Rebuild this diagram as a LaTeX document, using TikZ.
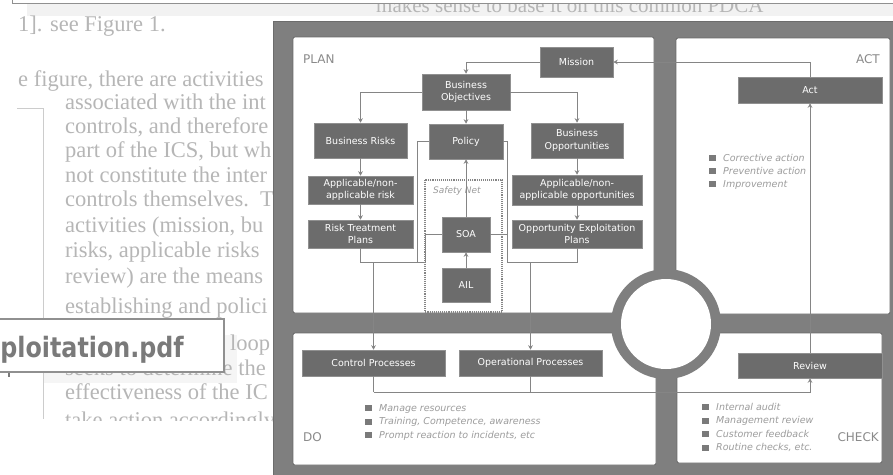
\documentclass[tikz,border=0pt]{standalone}
\usepackage{fontspec}
\setmainfont{Liberation Serif}
\newfontfamily\dv{DejaVu Sans}
\newfontfamily\pdffont[FakeStretch=0.85]{DejaVu Sans}
\usetikzlibrary{arrows.meta}
\definecolor{framegray}{HTML}{7F7F7F}
\definecolor{boxgray}{HTML}{6C6C6C}
\definecolor{boxedge}{HTML}{909090}
\definecolor{paneledge}{HTML}{6A6A6A}
\definecolor{linegray}{HTML}{858585}
\definecolor{bgtext}{HTML}{B6B6B6}
\definecolor{lblgray}{HTML}{8A8A8A}
\definecolor{listgray}{HTML}{9C9C9C}
\definecolor{sqcol}{HTML}{7A7A7A}
\definecolor{bandgray}{HTML}{F2F2F2}
\newcommand\sqb{\textcolor{sqcol}{\rule{7pt}{6pt}}\hspace{7pt}}
\tikzset{
  box/.style={draw=boxedge, line width=0.5pt, fill=boxgray, text=white,
    font=\dv\fontsize{9.5}{12.5}\selectfont, align=center, inner sep=0pt},
  panel/.style={draw=paneledge, fill=white, line width=0.8pt, rounded corners=2pt},
  conn/.style={draw=linegray, line width=1pt},
  arr/.style={conn, -{Stealth[length=4.5pt,width=4.5pt]}},
  bg/.style={text=bgtext, font=\fontsize{22.5}{26}\selectfont, anchor=base west, inner sep=0pt},
  lbl/.style={text=lblgray, font=\dv\fontsize{12}{14}\selectfont, inner sep=0pt},
  lst/.style={text=listgray, font=\dv\itshape\fontsize{9.5}{13}\selectfont, anchor=base west, inner sep=0pt}
}
\begin{document}
\begin{tikzpicture}[x=1pt,y=-1pt]
\useasboundingbox (0,0) rectangle (893,474);
\fill[white] (0,0) rectangle (893,474);
% ---- background page ----
\fill[bandgray] (27,3.5) rectangle (893,16);
\node[bg, font=\fontsize{21}{24}\selectfont] (ttop) at (376,12) {makes sense to base it on this common PDCA};
\fill[white] (12,-1) rectangle (893,3.5);
\draw[draw=boxedge, line width=0.8pt] (12,-1) -- (12,3.5) -- (893,3.5);
\fill[bandgray!80!white] (43,335) rectangle (237,383);
\node[bg] (t0) at (18,31) {1]. see Figure 1.};
\node[bg] (t1) at (18,86) {e figure, there are activities};
\node[bg] (t2) at (65,109) {associated with the int};
\node[bg] (t3) at (65,133) {controls, and therefore};
\node[bg] (t4) at (65,157) {part of the ICS, but wh};
\node[bg] (t5) at (65,182) {not constitute the inter};
\node[bg] (t6) at (65,206) {controls themselves.\ \ T};
\node[bg] (t7) at (65,232) {activities (mission, bu};
\node[bg] (t8) at (65,257) {risks, applicable risks};
\node[bg] (t9) at (65,283) {review) are the means};
\node[bg] (t10) at (65,313) {establishing and polici};
\node[bg] (t11) at (230,350) {loop};
\node[bg] (t12) at (65,375) {seeks to determine the};
\node[bg] (t13) at (65,399) {effectiveness of the IC};
\node[bg] (t14) at (65,427) {take action accordingly};
\fill[white] (0,421) rectangle (272,474);
\draw[draw=bgtext!70!white, line width=0.8pt] (17,108) -- (43,108) -- (43,419);
\fill[sqcol] (8,373) rectangle (10,377);
\draw[draw=boxedge, line width=1.5pt, fill=white] (-2,319) rectangle (224,372);
\node[anchor=base east, text=sqcol, font=\pdffont\bfseries\fontsize{28}{30}\selectfont, inner sep=0pt] (pdf) at (184,357) {ploitation.pdf};
% ---- diagram frame ----
\draw[fill=framegray, draw=framegray!85!black, line width=0.6pt] (273,21) rectangle (894,475);
\draw[panel] (293,37) rectangle (654,313);
\draw[panel] (676,38) rectangle (890,314);
\draw[panel] (293,333) rectangle (656,465);
\draw[panel] (677,333) rectangle (882,463);
\fill[framegray] (666,324) circle[radius=55pt];
\fill[white] (666,324) circle[radius=45pt];
% ---- panel labels ----
\node[lbl, anchor=west] (planlbl) at (303,59) {PLAN};
\node[lbl, anchor=east] (actlbl) at (880,59) {ACT};
\node[lbl, anchor=west] (dolbl) at (303,437) {DO};
\node[lbl, anchor=east] (checklbl) at (879,437) {CHECK};
% ---- boxes ----
\node[box, minimum width=73, minimum height=30] (mission) at (576.5,62) {Mission};
\node[box, minimum width=88, minimum height=36] (bo) at (466,92) {Business\\Objectives};
\node[box, minimum width=93, minimum height=35] (br) at (360.5,140.5) {Business Risks};
\node[box, minimum width=74, minimum height=35] (policy) at (466,141.5) {Policy};
\node[box, minimum width=92, minimum height=35] (bopp) at (577,140.5) {Business\\Opportunities};
\node[box, minimum width=105, minimum height=28] (ar) at (360.5,190) {Applicable/non-\\applicable risk};
\node[box, minimum width=130, minimum height=30] (ao) at (577,190) {Applicable/non-\\applicable opportunities};
\node[box, minimum width=105, minimum height=28] (rtp) at (360.5,234) {Risk Treatment\\Plans};
\node[box, minimum width=130, minimum height=28] (oep) at (577,234) {Opportunity Exploitation\\Plans};
\node[box, minimum width=48, minimum height=35] (soa) at (466,234.5) {SOA};
\node[box, minimum width=48, minimum height=34] (ail) at (466,285) {AIL};
\node[box, minimum width=143, minimum height=26] (cp) at (373.5,363) {Control Processes};
\node[box, minimum width=143, minimum height=26] (op) at (530.5,363) {Operational Processes};
\node[box, minimum width=144, minimum height=26] (act) at (810,90) {Act};
\node[box, minimum width=144, minimum height=25] (review) at (810,365.5) {Review};
% ---- safety net ----
\draw[densely dotted, draw=linegray, line width=1.1pt] (425,180) rectangle (502,312);
\node[anchor=base west, inner sep=0pt, text=listgray, font=\dv\itshape\fontsize{9}{10}\selectfont] (sn) at (433,193) {Safety Net};
% ---- connectors ----
\coordinate (jL) at (425,262);
\coordinate (pL) at (417,262);
\coordinate (jR) at (507,262);
\coordinate (bot) at (0,392);
\draw[arr] (act.north) |- (mission.east);
\draw[arr] (mission.west) -| (bo.north);
\draw[arr] (bo.west) -| (br.north);
\draw[arr] (bo.east) -| (bopp.north);
\draw[arr] (bo.south) -- (policy.north);
\draw[arr] (br.south) -- (ar.north);
\draw[arr] (ar.south) -- (rtp.north);
\draw[arr] (bopp.south) -- (ao.north);
\draw[arr] (ao.south) -- (oep.north);
\draw[arr] (soa.north) -- (policy.south);
\draw[arr] (ail.north) -- (soa.south);
\draw[conn] (rtp.south) |- (jL);
\draw[conn] (policy.west) -| (pL);
\draw[conn] (soa.west) -| (jL);
\draw[arr] (cp.north |- jL) -- (cp.north);
\draw[conn] (policy.east) -| (jR);
\draw[conn] (soa.east) -| (jR);
\draw[conn] (oep.south) |- (jR);
\draw[arr] (op.north |- jR) -- (op.north);
\draw[conn] (cp.south) -- (cp.south |- bot);
\draw[conn] (op.south) -- (op.south |- bot);
\draw[arr] (cp.south |- bot) -| (review.south);
\draw[arr] (review.north) -- (act.south);
% ---- lists ----
\foreach \t [count=\i] in {Corrective action, Preventive action, Improvement}
  \node[lst] (actl\i) at (709,{161+13*(\i-1)}) {\sqb\t};
\foreach \t [count=\i] in {Manage resources, {Training, Competence, awareness}, {Prompt reaction to incidents, etc}}
  \node[lst] (dol\i) at (365,{411+13.5*(\i-1)}) {\sqb\t};
\foreach \t [count=\i] in {Internal audit, Management review, Customer feedback, {Routine checks, etc.}}
  \node[lst] (chl\i) at (702,{410+13.6*(\i-1)}) {\sqb\t};
\end{tikzpicture}
\end{document}
